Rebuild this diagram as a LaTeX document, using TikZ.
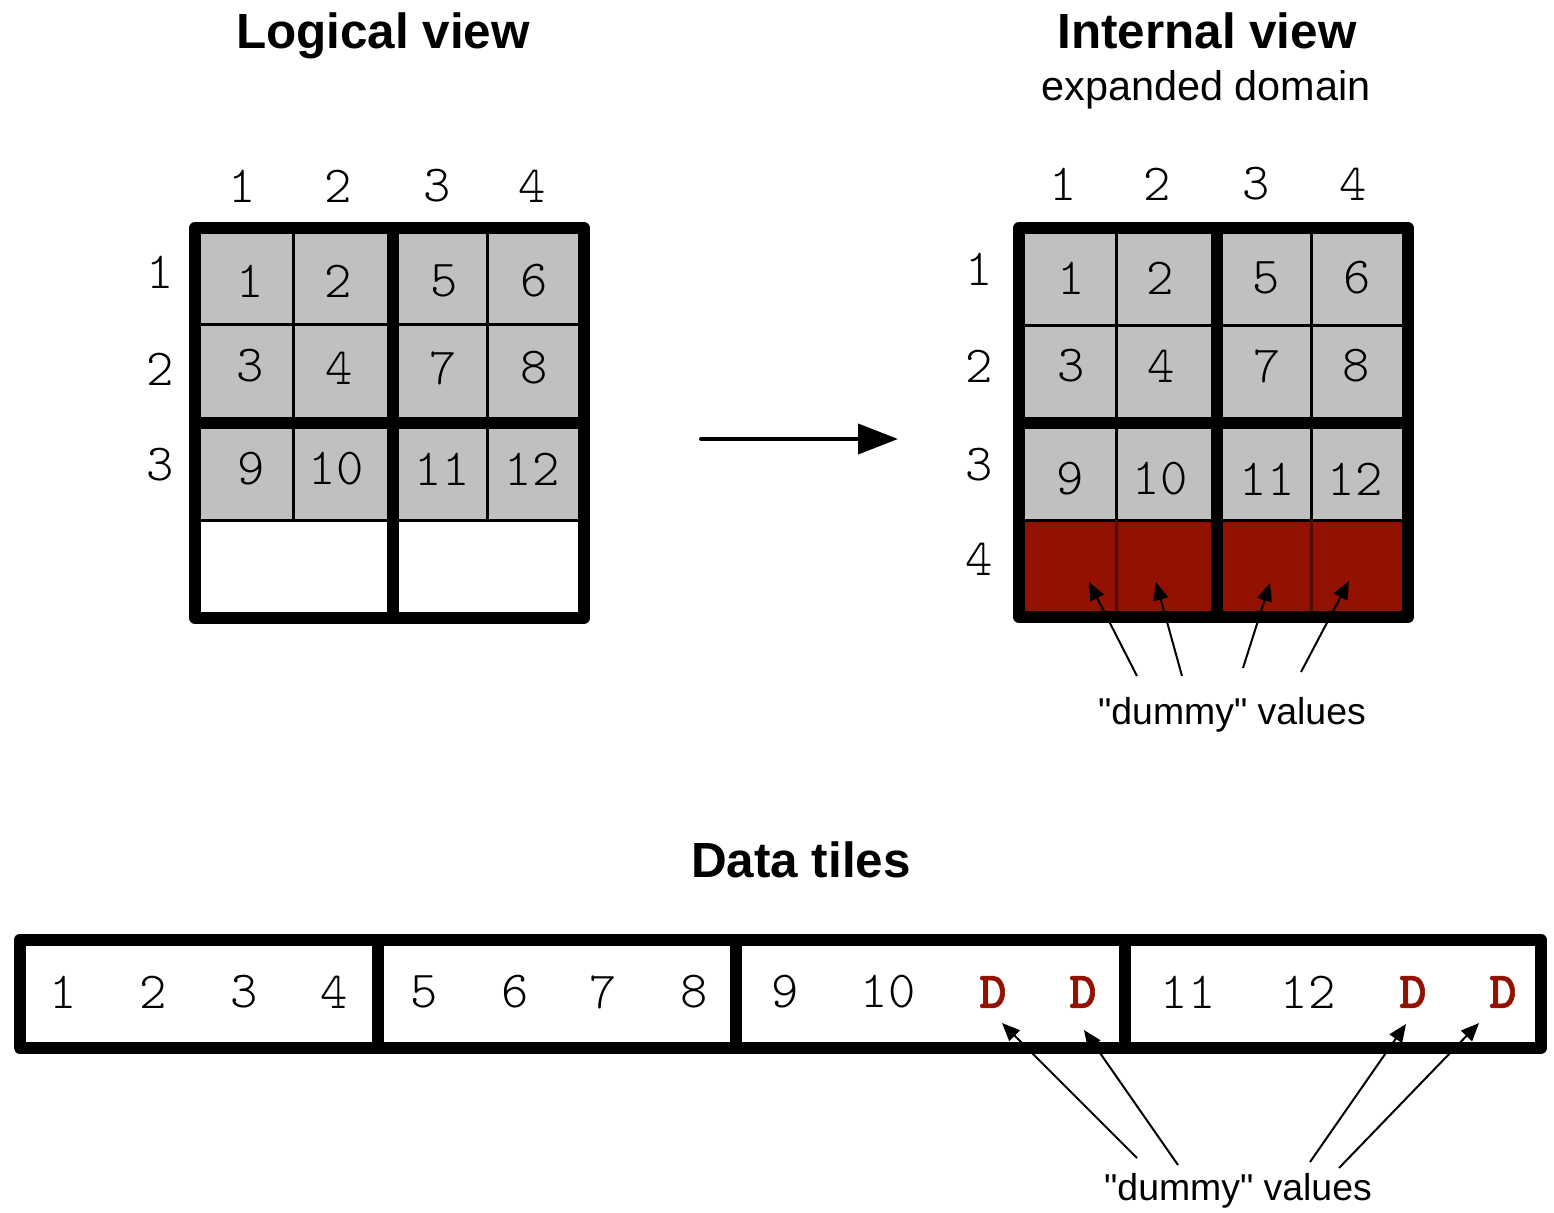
\documentclass[tikz,border=0pt]{standalone}
\usepackage{fontspec}
\setmainfont{Liberation Sans}
\newfontfamily\notefont{Liberation Sans}[Ligatures=TeXOff]
\newfontfamily\digfont{lmmonolt10-regular.otf}
\newfontfamily\dfont{lmmonolt10-bold.otf}[FakeBold=1.2]
\usetikzlibrary{arrows.meta}
\definecolor{cellgray}{RGB}{192,192,192}
\definecolor{dummyred}{RGB}{146,17,0}
\definecolor{thinred}{RGB}{80,10,0}
\begin{document}
\begin{tikzpicture}[x=0.5pt,y=-0.5pt,
  heavyline/.style={line width=6pt,line join=round},
  fineline/.style={line width=1.5pt},
  num/.style={font=\digfont\fontsize{26}{30}\selectfont,inner sep=0pt},
  dnum/.style={font=\dfont\fontsize{26}{30}\selectfont,text=dummyred,inner sep=0pt},
  title/.style={font=\bfseries\fontsize{24.7}{28}\selectfont,inner sep=0pt,anchor=base},
  subtitle/.style={font=\fontsize{20.7}{24}\selectfont,inner sep=0pt,anchor=base},
  note/.style={font=\notefont\fontsize{18.7}{22}\selectfont,inner sep=0pt,anchor=base},
  ptr/.style={line width=1pt,-{Triangle[length=9pt,width=7.5pt]}},
  bigptr/.style={line width=2pt,line cap=round,-{Triangle[length=20pt,width=15pt]}}]
\fill[white] (0,0) rectangle (1554,1212);
\useasboundingbox (0,0) rectangle (1554,1212);

% titles
\node[title] (tlog) at (383,48) {Logical view};
\node[title] (tint) at (1207,48) {Internal view};
\node[subtitle] (tsub) at (1206,100) {expanded domain};
\node[title] (tdata) at (801,877) {Data tiles};

% ---------- logical view grid ----------
\fill[cellgray] (195,228) rectangle (584,520);
\draw[fineline] (293,228) -- (293,520) (487,228) -- (487,520)
  (195,324) -- (584,324) (195,520) -- (584,520);
\draw[heavyline] (195,228) rectangle (584,618);
\draw[heavyline] (393,228) -- (393,618) (195,423) -- (584,423);

\node[num] (lc1) at (242,186) {1};
\node[num] (lc2) at (338,186) {2};
\node[num] (lc3) at (437,186) {3};
\node[num] (lc4) at (532,186) {4};
\node[num] (lr1) at (160,272) {1};
\node[num] (lr2) at (160,369) {2};
\node[num] (lr3) at (160,465) {3};
\node[num] (l11) at (250,281) {1};
\node[num] (l12) at (338,281) {2};
\node[num] (l13) at (444,281) {5};
\node[num] (l14) at (534,281) {6};
\node[num] (l21) at (250,366) {3};
\node[num] (l22) at (339,368) {4};
\node[num] (l23) at (443,368) {7};
\node[num] (l24) at (534,368) {8};
\node[num] (l31) at (251,469) {9};
\node[num] (l32) at (336,469) {10};
\node[num] (l33) at (442,469) {11};
\node[num] (l34) at (532,469) {12};

% ---------- centre arrow ----------
\coordinate (mfrom) at (701,439);
\coordinate (mto) at (898,439);
\draw[bigptr] (mfrom) -- (mto);

% ---------- internal view grid ----------
\fill[cellgray] (1019,228) rectangle (1408,520);
\fill[dummyred] (1019,520) rectangle (1408,617);
\draw[fineline] (1116,228) -- (1116,520) (1311,228) -- (1311,520)
  (1019,325) -- (1408,325) (1019,520) -- (1408,520);
\draw[fineline,thinred] (1116,520) -- (1116,617) (1311,520) -- (1311,617);
\draw[heavyline] (1019,228) rectangle (1408,617);
\draw[heavyline] (1217,228) -- (1217,617) (1019,423) -- (1408,423);

\node[num] (rc1) at (1063,184) {1};
\node[num] (rc2) at (1157,184) {2};
\node[num] (rc3) at (1256,184) {3};
\node[num] (rc4) at (1353,184) {4};
\node[num] (rr1) at (979,269) {1};
\node[num] (rr2) at (979,366) {2};
\node[num] (rr3) at (979,465) {3};
\node[num] (rr4) at (979,559) {4};
\node[num] (r11) at (1071,278) {1};
\node[num] (r12) at (1160,278) {2};
\node[num] (r13) at (1266,278) {5};
\node[num] (r14) at (1357,278) {6};
\node[num] (r21) at (1071,366) {3};
\node[num] (r22) at (1161,366) {4};
\node[num] (r23) at (1267,366) {7};
\node[num] (r24) at (1356,366) {8};
\node[num] (r31) at (1070,479) {9};
\node[num] (r32) at (1160,479) {10};
\node[num] (r33) at (1267,479) {11};
\node[num] (r34) at (1355,479) {12};

\node[note] (dum1) at (1232,724) {"dummy" values};
\coordinate (ta1) at (1137,676); \coordinate (ha1) at (1089,582);
\coordinate (ta2) at (1182,676); \coordinate (ha2) at (1156,582);
\coordinate (ta3) at (1243,668); \coordinate (ha3) at (1270,583);
\coordinate (ta4) at (1301,672); \coordinate (ha4) at (1349,581);
\draw[ptr] (ta1) -- (ha1);
\draw[ptr] (ta2) -- (ha2);
\draw[ptr] (ta3) -- (ha3);
\draw[ptr] (ta4) -- (ha4);

% ---------- data tiles ----------
\draw[heavyline] (19.5,940) rectangle (1541,1047.5);
\draw[heavyline] (378,940) -- (378,1047.5) (736,940) -- (736,1047.5)
  (1125,940) -- (1125,1047.5);

\node[num] (s1) at (63,992) {1};
\node[num] (s2) at (153,992) {2};
\node[num] (s3) at (244,992) {3};
\node[num] (s4) at (334,992) {4};
\node[num] (s5) at (424,992) {5};
\node[num] (s6) at (515,992) {6};
\node[num] (s7) at (603,992) {7};
\node[num] (s8) at (694,992) {8};
\node[num] (s9) at (785,992) {9};
\node[num] (s10) at (888,992) {10};
\node[dnum] (sd1) at (993,992) {D};
\node[dnum] (sd2) at (1083,992) {D};
\node[num] (s11) at (1188,992) {11};
\node[num] (s12) at (1308,992) {12};
\node[dnum] (sd3) at (1413,992) {D};
\node[dnum] (sd4) at (1503,992) {D};

\node[note] (dum2) at (1238,1200) {"dummy" values};
\coordinate (tb1) at (1137,1158); \coordinate (hb1) at (1002,1023);
\coordinate (tb2) at (1178,1165); \coordinate (hb2) at (1084,1030);
\coordinate (tb3) at (1310,1162); \coordinate (hb3) at (1406,1024);
\coordinate (tb4) at (1339,1168); \coordinate (hb4) at (1479,1023);
\draw[ptr] (tb1) -- (hb1);
\draw[ptr] (tb2) -- (hb2);
\draw[ptr] (tb3) -- (hb3);
\draw[ptr] (tb4) -- (hb4);
\end{tikzpicture}
\end{document}
